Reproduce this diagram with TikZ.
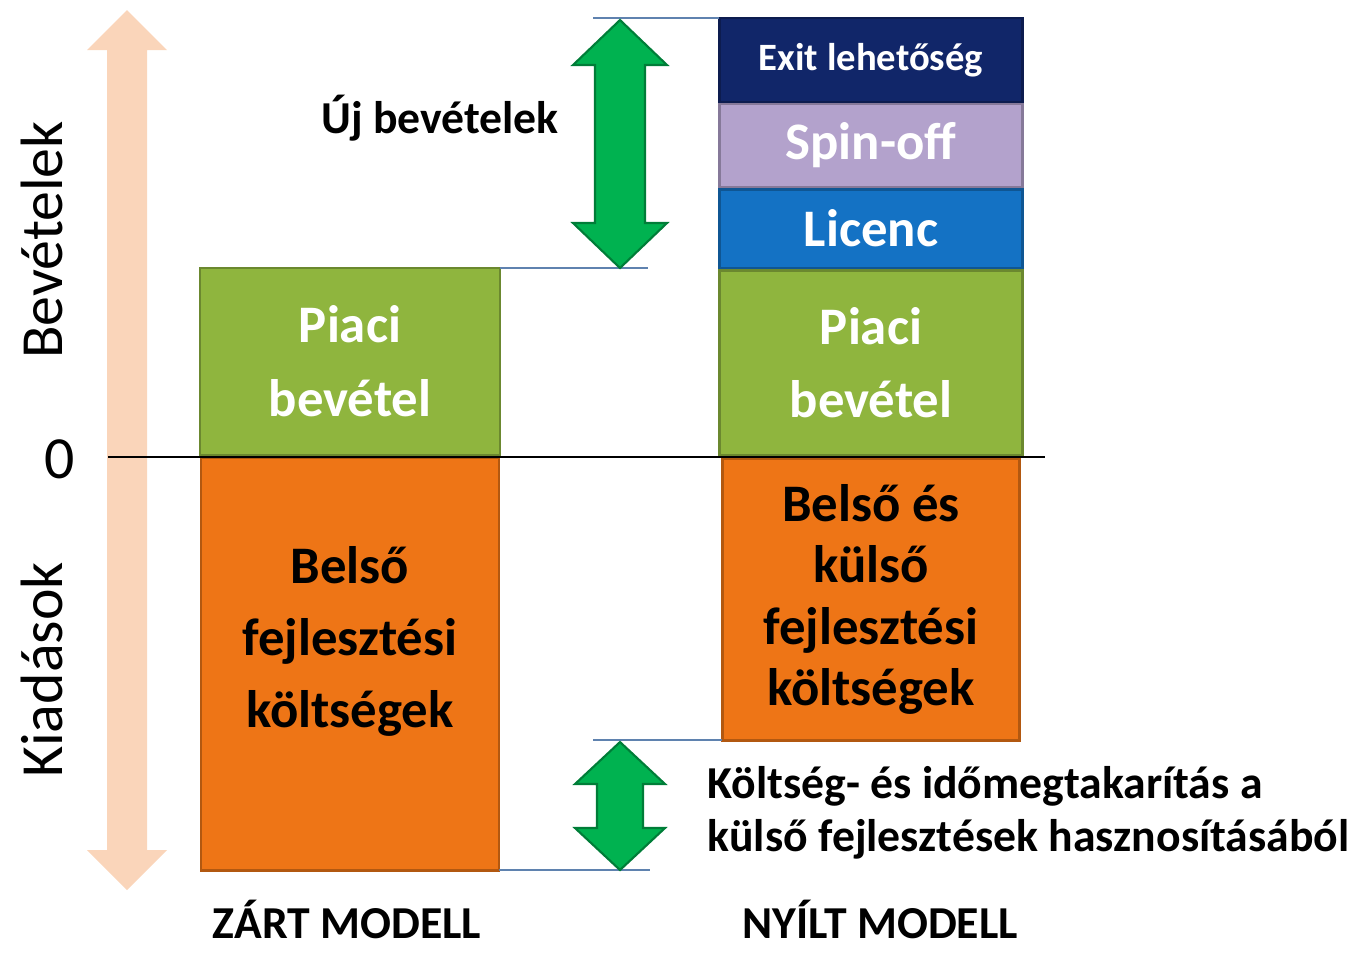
\documentclass[tikz,border=0pt]{standalone}
\usepackage{fontspec}
\setmainfont{Carlito}
\usetikzlibrary{positioning}

\definecolor{peach}{RGB}{250,213,186}
\definecolor{navy}{RGB}{17,38,105}
\definecolor{lavender}{RGB}{179,162,204}
\definecolor{licblue}{RGB}{20,114,196}
\definecolor{leaf}{RGB}{143,181,62}
\definecolor{carrot}{RGB}{238,117,22}
\definecolor{arrgreen}{RGB}{0,178,80}
\definecolor{guide}{RGB}{95,130,175}

% double headed block arrow: style, x, top, bottom, half shaft, half head, head length
\newcommand{\dblarr}[7]{%
  \path[#1] (#2-#5,#3+#7) -- (#2-#6,#3+#7) -- (#2,#3) -- (#2+#6,#3+#7) -- (#2+#5,#3+#7)
    -- (#2+#5,#4-#7) -- (#2+#6,#4-#7) -- (#2,#4) -- (#2-#6,#4-#7) -- (#2-#5,#4-#7) -- cycle;}

\begin{document}
\begin{tikzpicture}[x=0.01cm,y=-0.01cm,
	box/.style={rectangle,inner sep=0pt,outer sep=0pt,align=center,minimum width=3.03cm,draw=#1!75!black,fill=#1,line width=0.8pt},
	whitetext/.style={text=white,font=\fontsize{15}{21}\selectfont\bfseries},
	darktext/.style={text=black,font=\fontsize{15}{20.5}\selectfont\bfseries,align=center},
	axislabel/.style={font=\fontsize{17}{20}\selectfont},
	caption/.style={font=\fontsize{13}{15}\selectfont\bfseries},
	guideline/.style={draw=guide,line width=0.6pt},
	greenarrow/.style={fill=arrgreen,draw=arrgreen!70!black,line width=0.6pt},
	peacharrow/.style={fill=peach}]
	\useasboundingbox (0,0) rectangle (1363,953);

	% axis
	\dblarr{peacharrow}{127}{10}{890}{20}{40}{40}
	\node[axislabel,rotate=90] (bevLab) at (42,240) {Bevételek};
	\node[axislabel,rotate=90] (kiadLab) at (42,670) {Kiadások};
	\node[axislabel] (nulla) at (60,459) {0};

	% zart modell
	\node[box=leaf,whitetext,minimum width=3cm,minimum height=1.87cm] (piaciZ) at (350,361.5) {Piaci\\bevétel};
	\node[box=carrot,minimum width=2.98cm,minimum height=4.12cm] (belsoZ) [below=0.03cm of piaciZ] {};
	\node[darktext] (belsoZLab) at ([yshift=0.23cm]belsoZ.center) {Belső\\fejlesztési\\költségek};

	% nyilt modell
	\node[box=navy,minimum height=0.84cm,text=white,font=\fontsize{11}{13}\selectfont\bfseries] (exitNy) at (871,60) {Exit lehetőség};
	\node[box=lavender,whitetext,minimum height=0.83cm] (spinNy) [below=0.02cm of exitNy] {Spin-off};
	\node[box=licblue,whitetext,minimum height=0.79cm] (licNy) [below=0.02cm of spinNy] {Licenc};
	\node[box=leaf,whitetext,minimum height=1.85cm] (piaciNy) [below=0.02cm of licNy] {Piaci\\bevétel};
	\node[box=carrot,darktext,font=\fontsize{15}{17.5}\selectfont\bfseries,minimum width=2.97cm,minimum height=2.82cm] (belsoNy) [below=0.03cm of piaciNy] {Belső és\\külső\\fejlesztési\\költségek};

	% zero line
	\coordinate (nullaL) at (108,457);
	\coordinate (nullaR) at (1045,457);
	\draw[line width=0.6pt] (nullaL) -- (nullaR);

	% guide lines
	\coordinate (ujTop) at (593,18);
	\coordinate (ujBot) at (648,268);
	\coordinate (megTop) at (593,742);
	\coordinate (megBot) at (650,870);
	\draw[guideline] (exitNy.north west) -- (exitNy.north west -| ujTop);
	\draw[guideline] (piaciZ.north east) -- (piaciZ.north east -| ujBot);
	\draw[guideline] (belsoNy.south west) -- (belsoNy.south west -| megTop);
	\draw[guideline] (belsoZ.south east) -- (belsoZ.south east -| megBot);

	\dblarr{greenarrow}{620}{20}{268}{25}{47}{45}
	\dblarr{greenarrow}{620}{742}{870}{23}{45}{42}

	\node[caption] (ujLab) at (440,118) {Új bevételek};
	\node[caption,anchor=west,align=left] (megLab) at (695,813) {Költség- és időmegtakarítás a\\külső fejlesztések hasznosításából};

	\node[caption,inner sep=0pt] (zartLab) at (347,919) {ZÁRT MODELL};
	\node[caption,inner sep=0pt] (nyiltLab) at (880,919) {NYÍLT MODELL};
\end{tikzpicture}
\end{document}
